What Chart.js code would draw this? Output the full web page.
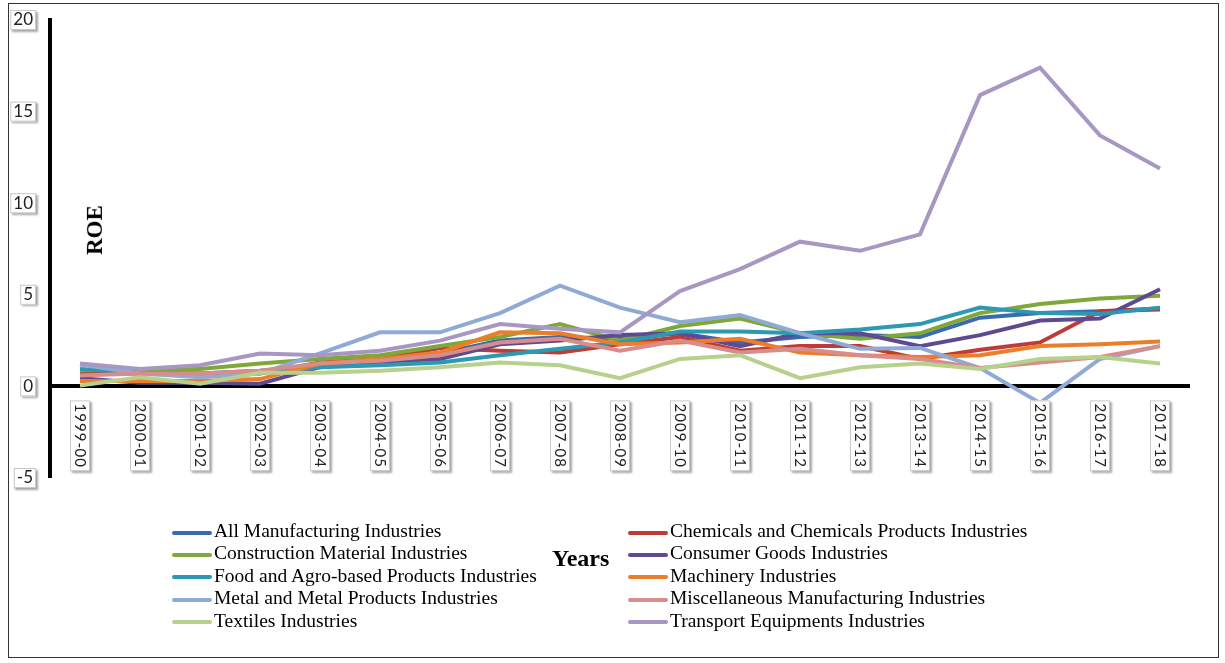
<!DOCTYPE html>
<html>
<head>
<meta charset="utf-8">
<script src="https://cdn.jsdelivr.net/npm/chart.js@4.4.1/dist/chart.umd.min.js"></script>
<style>
  body { margin: 0; background: #fff; }
  #wrap { position: relative; width: 1225px; height: 663px; }
  #frame { position: absolute; left: 8px; top: 3px; width: 1211px; height: 655px; border: 1px solid #333; box-sizing: border-box; }
  canvas { position: absolute; left: 0; top: 0; }
  .legend { position: absolute; font-family: "Liberation Serif", serif; font-size: 19.5px; color: #000; }
  .item { position: absolute; white-space: nowrap; height: 22px; line-height: 22px; }
  .item span.mark { display: inline-block; width: 40px; height: 4px; vertical-align: middle; margin-right: 2px; border-radius: 2px; }
  #years { position: absolute; left: 552px; top: 545px; font-family: "Liberation Serif", serif; font-weight: bold; font-size: 24px; }
  #roe { position: absolute; left: 70px; top: 217px; transform: rotate(-90deg); font-family: "Liberation Serif", serif; font-weight: bold; font-size: 23px; }
</style>
</head>
<body>
<div id="wrap">
  <div id="frame"></div>
  <canvas id="chart" width="1225" height="663"></canvas>
  <div id="roe">ROE</div>
  <div id="years">Years</div>
  <div id="legend" class="legend"></div>
</div>
<script>
const years = ["1999-00","2000-01","2001-02","2002-03","2003-04","2004-05","2005-06","2006-07","2007-08","2008-09",
  "2009-10","2010-11","2011-12","2012-13","2013-14","2014-15","2015-16","2016-17","2017-18"];

const allManufacturing = [0.85,0.75,0.7,0.85,1.15,1.4,1.8,2.5,2.7,2.6,2.9,2.4,2.7,2.8,2.7,3.75,4.0,4.1,4.2];
const chemicals        = [0.7,0.7,0.6,0.7,1.3,1.5,2.1,1.95,1.85,2.3,2.7,1.95,2.2,2.2,1.5,2.0,2.4,4.1,4.25];
const construction     = [0.87,0.95,0.95,1.25,1.5,1.7,2.2,2.7,3.4,2.5,3.3,3.7,2.9,2.6,2.9,4.0,4.5,4.8,4.95];
const consumerGoods    = [0.45,0.2,0.2,0.15,1.05,1.35,1.5,2.3,2.5,2.8,2.9,2.2,2.9,2.9,2.2,2.8,3.6,3.7,5.3];
const foodAgro         = [0.95,0.75,0.7,0.75,1.05,1.15,1.3,1.7,2.05,2.4,3.0,3.0,2.9,3.1,3.4,4.3,4.0,3.95,4.3];
const machinery        = [0.3,0.3,0.3,0.4,1.25,1.5,1.85,2.95,2.9,2.3,2.4,2.6,1.85,1.7,1.6,1.7,2.2,2.3,2.45];
const metal            = [1.2,0.7,0.5,0.7,1.8,2.95,2.95,4.0,5.5,4.3,3.5,3.9,2.9,2.05,2.1,1.0,-0.9,1.5,2.2];
const miscellaneous    = [0.6,0.7,0.7,0.85,1.25,1.4,1.7,2.4,2.6,1.95,2.5,1.85,2.05,1.7,1.5,1.0,1.3,1.6,2.2];
const textiles         = [0.05,0.5,0.15,0.75,0.75,0.85,1.05,1.3,1.15,0.45,1.5,1.7,0.45,1.05,1.25,0.95,1.5,1.6,1.25];
const transport        = [1.25,0.95,1.15,1.8,1.7,1.95,2.5,3.4,3.15,2.95,5.2,6.4,7.9,7.4,8.3,15.9,17.4,13.7,11.9];

const seriesNames = ["All Manufacturing Industries","Chemicals and Chemicals Products Industries",
  "Construction Material Industries","Consumer Goods Industries","Food and Agro-based Products Industries",
  "Machinery Industries","Metal and Metal Products Industries","Miscellaneous Manufacturing Industries",
  "Textiles Industries","Transport Equipments Industries"];
const seriesData = [allManufacturing, chemicals, construction, consumerGoods, foodAgro,
  machinery, metal, miscellaneous, textiles, transport];
const seriesColors = ["#3b6bae","#bd3c37","#80a73a","#5f4990","#2c98b2","#ec7e2b",
  "#8faad5","#d88c8b","#b6d18b","#a797c2"];

const datasets = seriesNames.map((name, i) => ({
  label: name,
  data: seriesData[i],
  borderColor: seriesColors[i],
  backgroundColor: seriesColors[i],
  borderWidth: 4,
  pointRadius: 0,
  tension: 0,
  order: seriesNames.length - i
}));

// draws the boxed tick labels, excel style
const boxedLabels = {
  id: "boxedLabels",
  afterDraw(chart) {
    const ctx = chart.ctx;
    const x = chart.scales.x, y = chart.scales.y;
    const box = (bx, by, w, h) => {
      ctx.save();
      ctx.shadowColor = "rgba(0,0,0,0.35)";
      ctx.shadowOffsetX = 1.5; ctx.shadowOffsetY = 1.5; ctx.shadowBlur = 2;
      ctx.fillStyle = "#fff";
      ctx.fillRect(bx, by, w, h);
      ctx.restore();
      ctx.strokeStyle = "#c8c8c8"; ctx.lineWidth = 1;
      ctx.strokeRect(bx + 0.5, by + 0.5, w - 1, h - 1);
    };
    ctx.save();
    ctx.font = "17px Lato";
    ctx.textBaseline = "middle";
    y.ticks.forEach(t => {
      const py = y.getPixelForValue(t.value);
      const txt = String(t.value);
      const w = ctx.measureText(txt).width;
      box(33 - w - 3, py - 10, w + 6, 20);
      ctx.fillStyle = "#222"; ctx.textAlign = "right";
      ctx.fillText(txt, 33, py);
    });
    ctx.font = "15px Lato";
    const y0 = y.getPixelForValue(0) + 17;
    years.forEach((lab, i) => {
      const px = x.getPixelForValue(i);
      ctx.save();
      ctx.translate(px, y0);
      ctx.rotate(Math.PI / 2);
      const w = ctx.measureText(lab).width * 1.12;
      box(-3, -10, w + 6, 20);
      ctx.fillStyle = "#222"; ctx.textAlign = "left";
      let cx = 0;
      for (const ch of lab) { ctx.fillText(ch, cx, 0); cx += ctx.measureText(ch).width * 1.12; }
      ctx.restore();
    });
    ctx.restore();
  }
};

const chart = new Chart(document.getElementById("chart"), {
  type: "line",
  data: { labels: years, datasets: datasets },
  options: {
    responsive: false,
    animation: false,
    layout: { padding: { left: 0, top: 20, right: 35, bottom: 185 } },
    plugins: { legend: { display: false }, tooltip: { enabled: false } },
    scales: {
      x: { display: false, offset: true },
      y: {
        min: -5, max: 20,
        ticks: { stepSize: 5, display: false },
        afterFit: s => { s.width = 50; },
        border: { display: true, color: "#000", width: 4 },
        grid: {
          drawTicks: false,
          color: c => c.tick.value === 0 ? "#000" : "rgba(0,0,0,0)",
          lineWidth: c => c.tick.value === 0 ? 4 : 0
        }
      }
    }
  },
  plugins: [boxedLabels]
});

// two column legend like the original
const legend = document.getElementById("legend");
chart.data.datasets.forEach((ds, i) => {
  const col = i % 2, row = Math.floor(i / 2);
  const el = document.createElement("div");
  el.className = "item";
  el.style.left = (col === 0 ? 172 : 628) + "px";
  el.style.top = (520 + row * 22.4) + "px";
  el.innerHTML = '<span class="mark" style="background:' + ds.borderColor + '"></span>' + ds.label;
  legend.appendChild(el);
});
</script>
</body>
</html>
